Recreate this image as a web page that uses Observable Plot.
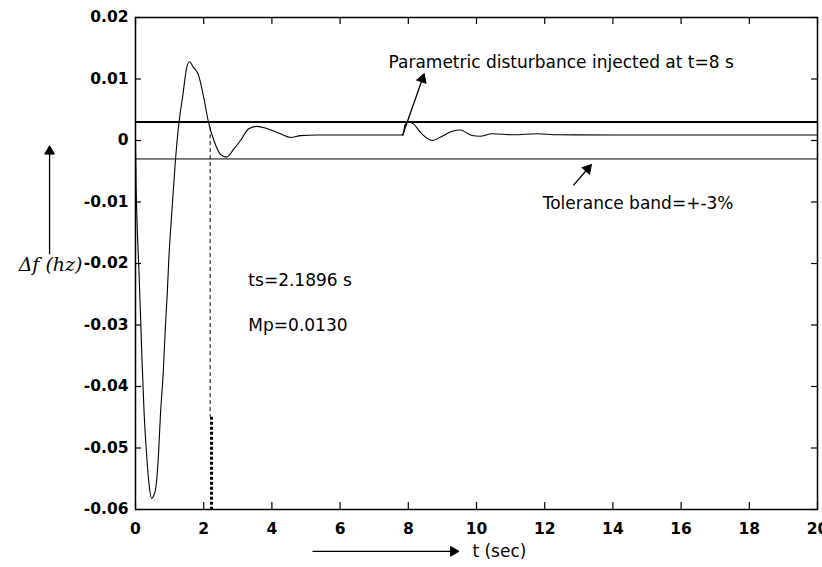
<!DOCTYPE html>
<html>
<head>
<meta charset="utf-8">
<script src="https://cdn.jsdelivr.net/npm/d3@7"></script>
<script src="https://cdn.jsdelivr.net/npm/@observablehq/plot@0.6"></script>
<style>
  html, body { margin: 0; padding: 0; background: #fff; }
  #chart svg { display: block; }
</style>
</head>
<body>
<div id="chart"></div>
<script>
// ---- data ----
const tValues  = [0, 0.02, 0.05, 0.1, 0.15, 0.2, 0.25, 0.3, 0.35, 0.4, 0.47, 0.53, 0.6, 0.68, 0.73, 0.81, 0.88, 0.93, 0.98, 1.08, 1.17, 1.22, 1.3, 1.38, 1.5, 1.58, 1.7, 1.85, 2.0, 2.14, 2.3, 2.5, 2.67, 2.88, 3.08, 3.32, 3.57, 3.87, 4.25, 4.55, 4.84, 5.3, 6.0, 7.0, 7.85, 7.9, 8.0, 8.15, 8.36, 8.7, 8.99, 9.29, 9.53, 9.87, 10.1, 10.46, 11.1, 11.78, 12.36, 14, 16, 18, 20];
const dfValues = [0, -0.008, -0.014, -0.021, -0.029, -0.037, -0.044, -0.049, -0.053, -0.056, -0.0582, -0.0578, -0.0563, -0.0505, -0.0447, -0.038, -0.030, -0.025, -0.019, -0.0105, -0.0033, 0.0, 0.004, 0.007, 0.0118, 0.0128, 0.0119, 0.0106, 0.007, 0.003, 0.0, -0.0023, -0.0027, -0.0014, 0.0, 0.0019, 0.0023, 0.0019, 0.0011, 0.0005, 0.0008, 0.0009, 0.0009, 0.0009, 0.0009, 0.0025, 0.003, 0.0027, 0.0013, 0.0, 0.0007, 0.0015, 0.0017, 0.0008, 0.0007, 0.0011, 0.00093, 0.0011, 0.00093, 0.0009, 0.0009, 0.0009, 0.0009];
const bandLevels = [0.003, -0.003];
const bandWidths = [2, 1];
const settlingTime = 2.1896;
const xTicks = [0, 2, 4, 6, 8, 10, 12, 14, 16, 18, 20];
const yTicks = [-0.06, -0.05, -0.04, -0.03, -0.02, -0.01, 0, 0.01, 0.02];
const labelTexts = ["Parametric disturbance injected at t=8 s", "Tolerance band=+-3%", "ts=2.1896 s", "Mp=0.0130", "t (sec)"];
const labelX = [7.42, 11.94, 3.31, 3.31, 9.88];
const labelY = [0.0127, -0.0102, -0.0228, -0.0301, -0.0668];
const arrowX1 = [7.83, 12.84, -2.52, 5.19];
const arrowY1 = [0.0008, -0.0073, -0.0185, -0.0668];
const arrowX2 = [8.45, 13.34, -2.52, 9.44];
const arrowY2 = [0.0106, -0.0041, -0.0011, -0.0668];

// ---- layout ----
const W = 822, H = 567, ML = 135, MR = 5, MT = 17, MB = 58;
const xDomain = [0, 20], yDomain = [-0.06, 0.02];
const kx = (W - ML - MR) / (xDomain[1] - xDomain[0]);
const ky = (H - MT - MB) / (yDomain[1] - yDomain[0]);

const curve = tValues.map((t, i) => ({t, v: dfValues[i]}));
const bands = bandLevels.map((y, i) => ({y, w: bandWidths[i]}));
const labels = labelTexts.map((s, i) => ({s, x: labelX[i], y: labelY[i]}));
const arrows = arrowX1.map((x1, i) => {
  const x2 = arrowX2[i], y1 = arrowY1[i], y2 = arrowY2[i];
  const sx = (x2 - x1) * kx, sy = (y2 - y1) * ky;
  const len = Math.hypot(sx, sy);
  const back = 4; // px: pull triangle centroid back from tip
  return {x1, y1, x2, y2,
    hx: x2 - (sx / len) * back / kx,
    hy: y2 - (sy / len) * back / ky,
    sx2: x2 - (sx / len) * 6 / kx,
    sy2: y2 - (sy / len) * 6 / ky,
    rot: Math.atan2(sx, sy) * 180 / Math.PI};
});
const tickLenX = 7 / ky, tickLenY = 6 / kx;

const fmtY = d => d === 0 ? "0" : d.toFixed(2);
const tickFont = "'DejaVu Sans', sans-serif";

const plot = Plot.plot({
  width: W, height: H,
  marginLeft: ML, marginRight: MR, marginTop: MT, marginBottom: MB,
  style: {fontFamily: "'DejaVu Sans', sans-serif", fontSize: "17px", background: "#fff", color: "#000"},
  x: {domain: xDomain},
  y: {domain: yDomain},
  marks: [
    Plot.axisX({ticks: xTicks, tickSize: 0, tickPadding: 13, tickFormat: d => String(d), label: null,
      fontSize: 15.5, fontWeight: "bold", fontFamily: tickFont}),
    Plot.axisY({ticks: yTicks, tickSize: 0, tickPadding: 7, tickFormat: fmtY, label: null,
      fontSize: 15.5, fontWeight: "bold", fontFamily: tickFont}),
    // inward ticks on all four sides
    Plot.ruleX(xTicks, {x: d => d, y1: yDomain[0], y2: yDomain[0] + tickLenX, stroke: "#000", strokeWidth: 1.2}),
    Plot.ruleX(xTicks, {x: d => d, y1: yDomain[1], y2: yDomain[1] - tickLenX, stroke: "#000", strokeWidth: 1.2}),
    Plot.ruleY(yTicks, {y: d => d, x1: xDomain[0], x2: xDomain[0] + tickLenY, stroke: "#000", strokeWidth: 1.2}),
    Plot.ruleY(yTicks, {y: d => d, x1: xDomain[1], x2: xDomain[1] - tickLenY, stroke: "#000", strokeWidth: 1.2}),
    // tolerance band
    Plot.ruleY(bands, {y: "y", strokeWidth: "w", stroke: "#000"}),
    // settling time marker
    Plot.ruleX([settlingTime], {x: d => d, y1: 0.0021, y2: -0.045, stroke: "#000", strokeWidth: 1, strokeDasharray: "4,3"}),
    Plot.ruleX([settlingTime + 0.04], {x: d => d, y1: -0.045, y2: yDomain[0], stroke: "#000", strokeWidth: 3, strokeDasharray: "3,2"}),
    // response curve
    Plot.line(curve, {x: "t", y: "v", stroke: "#000", strokeWidth: 1.1, curve: "monotone-x"}),
    // annotation arrows
    Plot.link(arrows, {x1: "x1", y1: "y1", x2: "sx2", y2: "sy2", stroke: "#000", strokeWidth: 1.3, clip: false}),
    Plot.dot(arrows, {x: "hx", y: "hy", symbol: "triangle", r: 3.6, fill: "#000", stroke: "#000", strokeWidth: 1, rotate: "rot", clip: false}),
    // labels
    Plot.text(labels, {x: "x", y: "y", text: "s", textAnchor: "start", fill: "#000", fontSize: 17}),
    Plot.text(["Δf (hz)"], {x: -2.49, y: -0.0203, text: d => d, fontFamily: "'DejaVu Serif', serif", fontStyle: "italic", fontSize: 19, fill: "#000"}),
    Plot.frame({stroke: "#000", strokeWidth: 1.5})
  ]
});
document.getElementById("chart").appendChild(plot);
</script>
</body>
</html>
